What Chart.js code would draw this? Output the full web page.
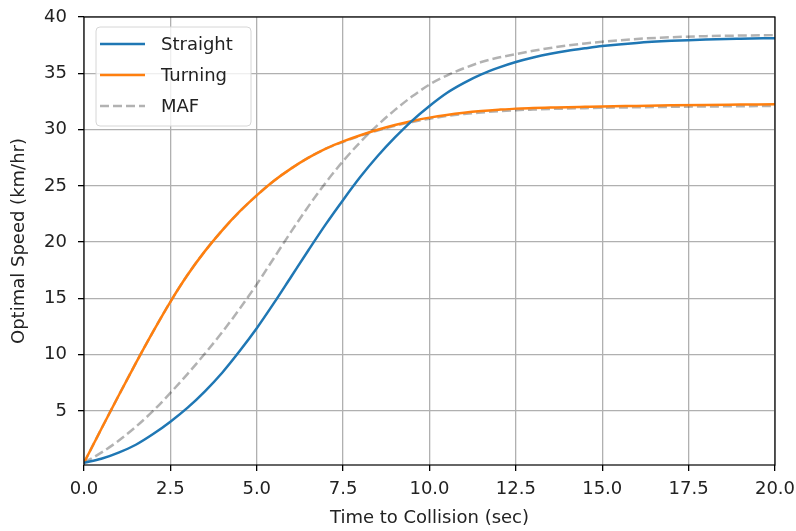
<!DOCTYPE html>
<html>
<head>
<meta charset="utf-8">
<script src="https://cdn.jsdelivr.net/npm/chart.js@4/dist/chart.umd.min.js"></script>
<style>
  html, body { margin: 0; padding: 0; background: #fff; }
  #wrap { width: 796px; height: 531px; position: relative; }
</style>
</head>
<body>
<div id="wrap"><canvas id="c" width="796" height="531"></canvas></div>
<script>
// ---- data ----
const timePoints = [0,0.5,1,1.5,2,2.5,3,3.5,4,4.5,5,5.5,6,6.5,7,7.5,8,8.5,9,9.5,10,10.5,11,11.5,12,12.5,13,13.5,14,14.5,15,16,17,18,19,20];
const straight = [0.4,0.75,1.3,2.0,2.95,4.05,5.3,6.75,8.4,10.3,12.35,14.6,16.95,19.3,21.6,23.75,25.8,27.65,29.3,30.8,32.1,33.25,34.15,34.9,35.5,36.0,36.4,36.73,37.0,37.22,37.42,37.7,37.88,38.0,38.07,38.12];
const turning = [0.4,3.4,6.35,9.25,12.05,14.7,17.1,19.2,21.05,22.7,24.15,25.45,26.55,27.5,28.3,28.95,29.5,29.98,30.4,30.76,31.06,31.3,31.49,31.64,31.76,31.86,31.91,31.95,31.99,32.02,32.05,32.1,32.15,32.19,32.22,32.25];
const mafStraight = [0.4,1.3,2.35,3.6,5.0,6.6,8.3,10.1,12.0,14.05,16.25,18.6,20.95,23.2,25.3,27.2,28.9,30.4,31.75,32.95,34.0,34.8,35.45,36.0,36.4,36.7,37.0,37.25,37.47,37.65,37.8,38.05,38.2,38.3,38.35,38.4];
const mafTurning = [0.4,3.4,6.35,9.25,12.05,14.7,17.1,19.2,21.05,22.7,24.15,25.45,26.55,27.5,28.3,28.9,29.45,29.92,30.33,30.68,30.97,31.2,31.38,31.52,31.63,31.72,31.78,31.83,31.87,31.9,31.93,31.98,32.02,32.05,32.07,32.1];
const xTicks = [0,2.5,5,7.5,10,12.5,15,17.5,20];
const yTicks = [5,10,15,20,25,30,35,40];
const seriesLabels = ['Straight','Turning','MAF'];

const FONT = 'DejaVu Sans';
const FS = 18;
const toXY = (ys) => ys.map((y, i) => ({x: timePoints[i], y: y}));

const frameAndLegend = {
  id: 'frameAndLegend',
  afterDatasetsDraw(chart) {
    const {ctx, chartArea: a} = chart;
    ctx.save();
    ctx.strokeStyle = '#000';
    ctx.lineWidth = 1.2;
    ctx.strokeRect(a.left, a.top, a.right - a.left, a.bottom - a.top);
    // legend
    const bx = 96, by = 27, bw = 155, bh = 99, r = 4;
    ctx.beginPath();
    ctx.moveTo(bx + r, by);
    ctx.arcTo(bx + bw, by, bx + bw, by + bh, r);
    ctx.arcTo(bx + bw, by + bh, bx, by + bh, r);
    ctx.arcTo(bx, by + bh, bx, by, r);
    ctx.arcTo(bx, by, bx + bw, by, r);
    ctx.closePath();
    ctx.fillStyle = 'rgba(255,255,255,0.8)';
    ctx.fill();
    ctx.strokeStyle = '#d6d6d6';
    ctx.lineWidth = 1;
    ctx.stroke();
    [0, 1, 2].forEach((di, k) => {
      const ds = chart.data.datasets[di];
      const yy = 44 + k * 31;
      ctx.beginPath();
      ctx.setLineDash(ds.borderDash || []);
      ctx.strokeStyle = ds.borderColor;
      ctx.lineWidth = ds.borderWidth;
      ctx.moveTo(100, yy);
      ctx.lineTo(145, yy);
      ctx.stroke();
      ctx.setLineDash([]);
      ctx.fillStyle = '#222';
      ctx.font = FS + 'px "' + FONT + '"';
      ctx.textBaseline = 'middle';
      ctx.textAlign = 'left';
      ctx.fillText(seriesLabels[k], 161, yy + 1);
    });
    ctx.restore();
  }
};

new Chart(document.getElementById('c'), {
  type: 'line',
  data: {
    datasets: [
      {label: seriesLabels[0], data: toXY(straight), borderColor: '#1f77b4', borderWidth: 2.5},
      {label: seriesLabels[1], data: toXY(turning), borderColor: '#ff7f0e', borderWidth: 2.5},
      {label: seriesLabels[2], data: toXY(mafStraight), borderColor: 'rgba(0,0,0,0.3)', borderWidth: 2.5, borderDash: [9, 4]},
      {label: seriesLabels[2] + ' (turning)', data: toXY(mafTurning), borderColor: 'rgba(0,0,0,0.3)', borderWidth: 2.5, borderDash: [9, 4]}
    ]
  },
  options: {
    responsive: false,
    animation: false,
    devicePixelRatio: 1,
    layout: {padding: {top: 17, right: 21, left: 0, bottom: 0}},
    elements: {
      point: {radius: 0, hoverRadius: 0},
      line: {cubicInterpolationMode: 'monotone', fill: false}
    },
    plugins: {legend: {display: false}, tooltip: {enabled: false}},
    scales: {
      x: {
        type: 'linear', min: 0, max: 20,
        afterBuildTicks: (s) => { s.ticks = xTicks.map(v => ({value: v})); },
        afterFit: (s) => { s.height = 66; s.paddingLeft = 0; s.paddingRight = 0; },
        grid: {color: '#b0b0b0', lineWidth: 1.3, tickColor: '#000', tickLength: 6},
        border: {display: false},
        ticks: {font: {family: FONT, size: FS}, color: '#222', padding: 8, maxRotation: 0,
                callback: (v) => Number(v).toFixed(1)},
        title: {display: true, text: 'Time to Collision (sec)', font: {family: FONT, size: FS}, color: '#222',
                padding: {top: 0, bottom: 2}}
      },
      y: {
        type: 'linear', min: 0.2, max: 40,
        afterBuildTicks: (s) => { s.ticks = yTicks.map(v => ({value: v})); },
        afterFit: (s) => { s.width = 84; s.paddingTop = 0; s.paddingBottom = 0; },
        grid: {color: '#b0b0b0', lineWidth: 1.3, tickColor: '#000', tickLength: 6},
        border: {display: false},
        ticks: {font: {family: FONT, size: FS}, color: '#222', padding: 11,
                callback: (v) => String(v)},
        title: {display: true, text: 'Optimal Speed (km/hr)', font: {family: FONT, size: FS}, color: '#222',
                padding: {top: 9, bottom: 0}}
      }
    }
  },
  plugins: [frameAndLegend]
});
</script>
</body>
</html>
